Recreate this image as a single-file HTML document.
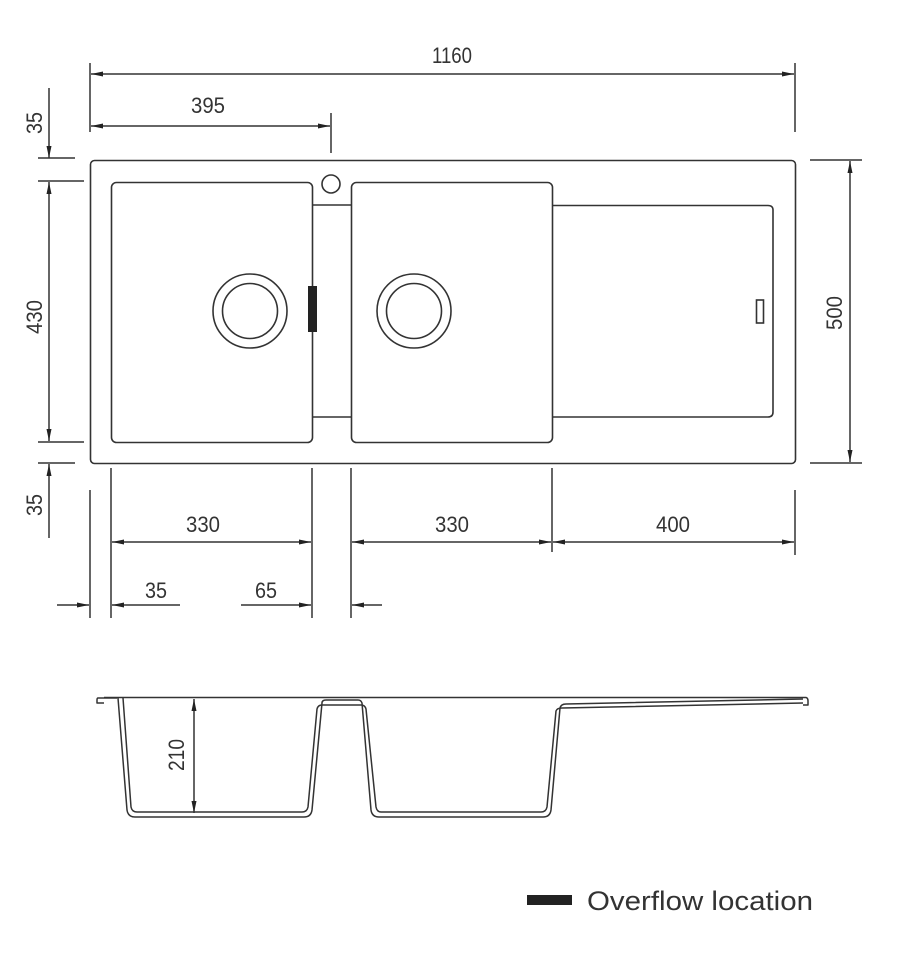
<!DOCTYPE html>
<html><head><meta charset="utf-8"><style>
html,body{margin:0;padding:0;background:#fff;}
svg{display:block;}
text{font-family:"Liberation Sans Narrow","Liberation Sans",sans-serif;fill:#333;}
</style></head><body>
<svg width="916" height="976" viewBox="0 0 916 976" xmlns="http://www.w3.org/2000/svg">
<defs>
<marker id="a" viewBox="0 0 12 6" refX="12" refY="3" markerWidth="12" markerHeight="6" orient="auto-start-reverse" markerUnits="userSpaceOnUse">
<path d="M0,0.5 L12,3 L0,5.5 Z" fill="#222"/></marker>
</defs>
<g stroke="#333" stroke-width="1.6" fill="none">
<rect x="90.5" y="160.5" width="705" height="303" rx="4"/>
<rect x="111.5" y="182.5" width="201" height="260" rx="5"/>
<rect x="351.5" y="182.5" width="201" height="260" rx="5"/>
<line x1="313" y1="205" x2="351" y2="205"/>
<line x1="313" y1="417" x2="351" y2="417"/>
<path d="M552,205.5 H768 Q773,205.5 773,210 V412 Q773,417 768,417 H552"/>
<rect x="756.5" y="300" width="7" height="23"/>
<circle cx="331" cy="184" r="9"/>
<circle cx="250" cy="311" r="37"/>
<circle cx="250" cy="311" r="27.5"/>
<circle cx="414" cy="311" r="37"/>
<circle cx="414" cy="311" r="27.5"/>
</g>
<rect x="308" y="286" width="9" height="46" fill="#222"/>

<g stroke="#333" stroke-width="1.5" fill="none">
<line x1="90" y1="63" x2="90" y2="132"/>
<line x1="795" y1="63" x2="795" y2="132"/>
<line x1="91" y1="74" x2="794" y2="74" marker-start="url(#a)" marker-end="url(#a)"/>
<line x1="331" y1="113" x2="331" y2="153"/>
<line x1="91" y1="126" x2="330" y2="126" marker-start="url(#a)" marker-end="url(#a)"/>
<line x1="49" y1="88" x2="49" y2="158" marker-end="url(#a)"/>
<line x1="38" y1="158" x2="75" y2="158"/>
<line x1="38" y1="181" x2="84" y2="181"/>
<line x1="49" y1="182" x2="49" y2="441" marker-start="url(#a)" marker-end="url(#a)"/>
<line x1="38" y1="442" x2="84" y2="442"/>
<line x1="38" y1="463" x2="75" y2="463"/>
<line x1="49" y1="538" x2="49" y2="464" marker-end="url(#a)"/>
<line x1="810" y1="160" x2="862" y2="160"/>
<line x1="810" y1="463" x2="862" y2="463"/>
<line x1="850" y1="161" x2="850" y2="462" marker-start="url(#a)" marker-end="url(#a)"/>
<line x1="90" y1="490" x2="90" y2="618"/>
<line x1="111" y1="468" x2="111" y2="618"/>
<line x1="312" y1="468" x2="312" y2="618"/>
<line x1="351" y1="468" x2="351" y2="618"/>
<line x1="552" y1="468" x2="552" y2="552"/>
<line x1="795" y1="490" x2="795" y2="555"/>
<line x1="112" y1="542" x2="311" y2="542" marker-start="url(#a)" marker-end="url(#a)"/>
<line x1="352" y1="542" x2="551" y2="542" marker-start="url(#a)" marker-end="url(#a)"/>
<line x1="553" y1="542" x2="794" y2="542" marker-start="url(#a)" marker-end="url(#a)"/>
<line x1="57" y1="605" x2="89" y2="605" marker-end="url(#a)"/>
<line x1="180" y1="605" x2="112" y2="605" marker-end="url(#a)"/>
<line x1="241" y1="605" x2="311" y2="605" marker-end="url(#a)"/>
<line x1="382" y1="605" x2="352" y2="605" marker-end="url(#a)"/>
<line x1="194" y1="699" x2="194" y2="813" marker-start="url(#a)" marker-end="url(#a)"/>
</g>

<g stroke="#333" stroke-width="1.5" fill="none" stroke-linejoin="round">
<path d="M104,697.5 H806 Q808,698 808,701 V705 H803"/>
<path d="M117,698 L98,698 Q97,698 97,700 V703 H104"/>
<path d="M118,698 L127,810 Q128,817 135,817 H304 Q311,817 312,810 L322,703 Q322,700 326,700 H358 Q361,700 362,703 L371,810 Q372,817 379,817 H543 Q550,817 551,810 L560,708 Q561,704 566,704 L803,699"/>
<path d="M123,698 L131,807 Q132,812 137,812 H302 Q307,812 308,807 L317,709 Q318,705 322,705 H361 Q365,705 366,709 L376,807 Q377,812 381,812 H541 Q546,812 547,807 L556,711 Q557,708 562,708 L803,703"/>
</g>

<g font-size="22">
<text x="432" y="63" textLength="40" lengthAdjust="spacingAndGlyphs">1160</text>
<text x="191" y="113" textLength="34" lengthAdjust="spacingAndGlyphs">395</text>
<text x="186" y="532" textLength="34" lengthAdjust="spacingAndGlyphs">330</text>
<text x="435" y="532" textLength="34" lengthAdjust="spacingAndGlyphs">330</text>
<text x="656" y="532" textLength="34" lengthAdjust="spacingAndGlyphs">400</text>
<text x="145" y="598" textLength="22" lengthAdjust="spacingAndGlyphs">35</text>
<text x="255" y="598" textLength="22" lengthAdjust="spacingAndGlyphs">65</text>
<text transform="translate(42,134) rotate(-90)" textLength="22" lengthAdjust="spacingAndGlyphs">35</text>
<text transform="translate(42,334) rotate(-90)" textLength="34" lengthAdjust="spacingAndGlyphs">430</text>
<text transform="translate(42,516) rotate(-90)" textLength="22" lengthAdjust="spacingAndGlyphs">35</text>
<text transform="translate(842,330) rotate(-90)" textLength="34" lengthAdjust="spacingAndGlyphs">500</text>
<text transform="translate(184,771) rotate(-90)" textLength="32" lengthAdjust="spacingAndGlyphs">210</text>
</g>
<rect x="527" y="895" width="45" height="10" fill="#222"/>
<text x="587" y="910" font-size="27" style="font-family:'Liberation Sans',sans-serif" fill="#444" textLength="226" lengthAdjust="spacingAndGlyphs">Overflow location</text>
</svg>
</body></html>
